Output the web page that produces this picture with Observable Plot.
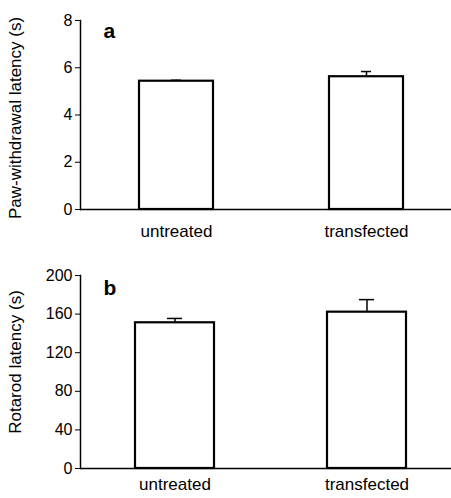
<!DOCTYPE html>
<html>
<head>
<meta charset="utf-8">
<script src="https://cdn.jsdelivr.net/npm/d3@7"></script>
<script src="https://cdn.jsdelivr.net/npm/@observablehq/plot@0.6"></script>
<style>
  html, body { margin: 0; padding: 0; background: white; }
  svg { display: block; }
</style>
</head>
<body>
<script>
const groups = ["untreated", "transfected"];
const pawMean = [5.43, 5.62];
const pawErr = [0.04, 0.22];
const rotaMean = [151, 162];
const rotaErr = [4.5, 13];
const pawTicks = [0, 2, 4, 6, 8];
const rotaTicks = [0, 40, 80, 120, 160, 200];

const pawData = groups.map((g, i) => ({group: g, value: pawMean[i], hi: pawMean[i] + pawErr[i]}));
const rotaData = groups.map((g, i) => ({group: g, value: rotaMean[i], hi: rotaMean[i] + rotaErr[i]}));

function panel({data, ticks, domain, height, marginTop, marginBottom, ylabel, letter, labelDy, letterDy, band, xPad}) {
  return Plot.plot({
    width: 451,
    height,
    marginTop,
    marginBottom,
    marginLeft: 80,
    marginRight: 0,
    style: {fontFamily: "'Liberation Sans', Arial, sans-serif", fontSize: "16px", color: "black", background: "white", overflow: "visible"},
    x: {domain: groups, paddingInner: band.pi, paddingOuter: band.po, align: band.align},
    y: {domain},
    marks: [
      Plot.frame({anchor: "left", strokeWidth: 1.5}),
      Plot.ruleY([0], {strokeWidth: 1.5}),
      Plot.axisY({ticks, tickSize: 5, tickPadding: 3, label: null, fontSize: 16}),
      Plot.axisX({tickSize: 0, tickPadding: xPad, label: null, fontSize: 17}),
      Plot.ruleX(data, {x: "group", y1: "value", y2: "hi", strokeWidth: 1.5}),
      Plot.tickY(data, {x: "group", y: "hi", insetLeft: 32, insetRight: 32, strokeWidth: 1.5}),
      Plot.barY(data, {x: "group", y: "value", fill: "white", stroke: "black", strokeWidth: 2.2}),
      Plot.text([ylabel], {frameAnchor: "left", textAnchor: "middle", dx: -65, dy: labelDy, rotate: -90, fontSize: 17}),
      Plot.text([letter], {frameAnchor: "top-left", dx: 23, dy: letterDy, textAnchor: "start", fontSize: 21, fontWeight: "bold"})
    ]
  });
}

document.body.append(panel({
  data: pawData, ticks: pawTicks, domain: [0, 8], height: 250, marginTop: 20, marginBottom: 41,
  ylabel: "Paw-withdrawal latency (s)", letter: "a", labelDy: 3, letterDy: 3,
  band: {pi: 0.609, po: 0.278, align: 0.557}, xPad: 15
}));
document.body.append(panel({
  data: rotaData, ticks: rotaTicks, domain: [0, 200], height: 248, marginTop: 25, marginBottom: 30,
  ylabel: "Rotarod latency (s)", letter: "b", labelDy: -10, letterDy: 5,
  band: {pi: 0.589, po: 0.26, align: 0.549}, xPad: 9
}));
</script>
</body>
</html>
